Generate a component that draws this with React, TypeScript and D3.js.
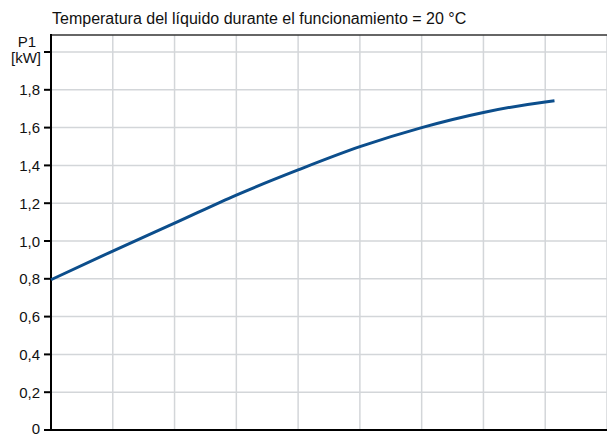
import React, { useEffect, useRef } from 'react';
import * as d3 from 'd3';

// curve (x in grid units, P1 in kW)
const flowSteps = [0, 1, 2, 3, 4, 5, 6, 7, 8, 8.15];
const powerValues = [0.795, 0.947, 1.094, 1.243, 1.376, 1.499, 1.6, 1.68, 1.736, 1.742];
const yTicks = [0, 0.2, 0.4, 0.6, 0.8, 1.0, 1.2, 1.4, 1.6, 1.8, 2.0];
const xGrid = [1, 2, 3, 4, 5, 6, 7, 8, 9];
const title = 'Temperatura del líquido durante el funcionamiento = 20 °C';

const W = 607;
const H = 434;
const FONT = '"Liberation Sans", Arial, sans-serif';

export default function App() {
  const ref = useRef<SVGSVGElement>(null);

  useEffect(() => {
    const svg = d3.select(ref.current);
    svg.selectAll('*').remove();

    const left = 51, right = 607, top = 35, bottom = 430;
    const x = d3.scaleLinear().domain([0, 9]).range([left, right]);
    const y = d3.scaleLinear().domain([0, 2.09]).range([bottom, top]);
    const fmt = (v: number) => (v === 0 ? '0' : d3.format('.1f')(v).replace('.', ','));

    svg.append('text')
      .attr('x', 52).attr('y', 24)
      .attr('font-family', FONT).attr('font-size', 16)
      .attr('fill', '#111')
      .text(title);

    // grid
    const grid = svg.append('g').attr('stroke', '#d3d6d9').attr('stroke-width', 1.5);
    grid.selectAll('line.h')
      .data(yTicks.filter(d => d > 0))
      .enter().append('line')
      .attr('x1', left).attr('x2', right)
      .attr('y1', d => y(d)).attr('y2', d => y(d));
    grid.selectAll('line.v')
      .data(xGrid)
      .enter().append('line')
      .attr('x1', d => x(d)).attr('x2', d => x(d))
      .attr('y1', top).attr('y2', bottom);

    // frame
    svg.append('line')
      .attr('x1', left).attr('x2', right).attr('y1', top).attr('y2', top)
      .attr('stroke', '#333').attr('stroke-width', 1.5);
    svg.append('line')
      .attr('x1', left).attr('x2', right).attr('y1', bottom).attr('y2', bottom)
      .attr('stroke', '#000').attr('stroke-width', 2);
    svg.append('line')
      .attr('x1', left).attr('x2', left).attr('y1', top - 1).attr('y2', bottom + 1)
      .attr('stroke', '#000').attr('stroke-width', 2);

    // y ticks
    const ticks = svg.append('g');
    ticks.selectAll('line')
      .data(yTicks)
      .enter().append('line')
      .attr('x1', 44).attr('x2', left)
      .attr('y1', d => y(d)).attr('y2', d => y(d))
      .attr('stroke', '#000').attr('stroke-width', 2);
    ticks.selectAll('text')
      .data(yTicks.filter(d => d < 2))
      .enter().append('text')
      .attr('x', 40).attr('y', d => Math.min(y(d) + 5.5, 433.5))
      .attr('text-anchor', 'end')
      .attr('font-family', FONT).attr('font-size', 15)
      .attr('fill', '#111')
      .text(fmt);

    svg.append('text')
      .attr('x', 27).attr('y', 47)
      .attr('text-anchor', 'middle')
      .attr('font-family', FONT).attr('font-size', 15).attr('fill', '#111')
      .text('P1');
    svg.append('text')
      .attr('x', 26).attr('y', 63)
      .attr('text-anchor', 'middle')
      .attr('font-family', FONT).attr('font-size', 15).attr('fill', '#111')
      .text('[kW]');

    const line = d3.line<number>()
      .x((d, i) => x(flowSteps[i]))
      .y(d => y(d))
      .curve(d3.curveMonotoneX);

    svg.append('path')
      .datum(powerValues)
      .attr('d', line)
      .attr('fill', 'none')
      .attr('stroke', '#0c4e8c')
      .attr('stroke-width', 3);
  }, []);

  return (
    <svg ref={ref} width={W} height={H}
      style={{ position: 'absolute', left: 0, top: 0, background: '#fff' }} />
  );
}
